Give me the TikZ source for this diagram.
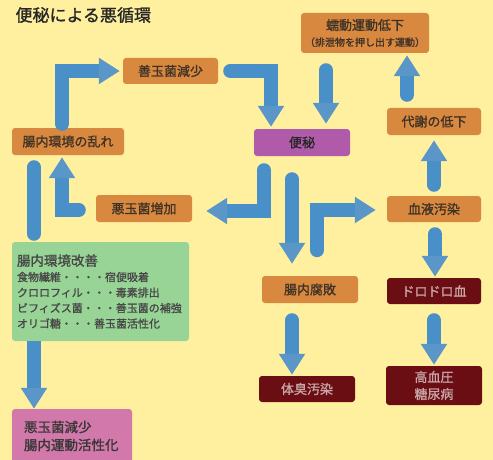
\documentclass[tikz,border=0pt]{standalone}
\usepackage{fontspec}
\setmainfont{Noto Sans CJK JP}
\newfontfamily\boxfont[FakeBold=1.2]{Noto Sans CJK JP}
\usepackage{tikz}
\usetikzlibrary{arrows.meta}
\definecolor{loopyellow}{HTML}{FFF0A0}
\definecolor{looporange}{HTML}{D98840}
\definecolor{looppurple}{HTML}{B05AAA}
\definecolor{loopgreen}{HTML}{98D496}
\definecolor{looppink}{HTML}{D278AA}
\definecolor{loopmaroon}{HTML}{6A0E14}
\definecolor{loopblue}{HTML}{4A90C8}
\definecolor{loophead}{HTML}{5A96C8}
\definecolor{loopink}{HTML}{3E3226}
\definecolor{looppale}{HTML}{C9A5A5}

\begin{document}
\begin{tikzpicture}[x=1pt, y=-1pt,
  stage/.style={fill=looporange, rounded corners=3pt, minimum width=96pt, minimum height=27pt, inner sep=0pt, align=center, text=loopink, font=\boxfont\fontsize{13}{17}\selectfont},
  core/.style={stage, fill=looppurple, text=black!85},
  result/.style={stage, fill=loopmaroon, text=looppale},
  remedy/.style={fill=loopgreen, rounded corners=3pt, text width=167pt, inner xsep=5pt, minimum height=99pt, align=left, text=black!72, font=\boxfont\fontsize{11}{15.5}\selectfont},
  relief/.style={fill=looppink, rounded corners=3pt, text width=96pt, inner xsep=12pt, minimum height=54pt, align=left, text=black!78, font=\boxfont\fontsize{13.5}{18}\selectfont},
  flow/.style={line width=14pt, draw=loopblue, line cap=round, arrows={-Triangle[width=25pt,length=21pt,color=loophead]}},
  link/.style={line width=14pt, draw=loopblue, line cap=round},
  feed/.style={line width=14pt, draw=loopblue, arrows={-Triangle[width=25pt,length=21pt,color=loophead]}}
]
\useasboundingbox (0,0) rectangle (493,460);
\clip (0,0) rectangle (493,460);
\fill[loopyellow] (0,0) rectangle (493,460);
\node[anchor=west, text=black!85, font=\boxfont\fontsize{17}{19}\selectfont] (title) at (12,15) {便秘による悪循環};
\node[stage, minimum width=95pt, minimum height=26pt] (zendama) at (170.5,71) {善玉菌減少};
\node[stage, minimum width=112pt] (ranre) at (68,141.5) {腸内環境の乱れ};
\node[stage, minimum width=128pt, minimum height=40pt] (zendo) at (365,33) {蠕動運動低下\\[-1pt]{\fontsize{10}{12}\selectfont （排泄物を押し出す運動）}};
\node[stage, minimum width=94pt] (taisha) at (434,121.5) {代謝の低下};
\node[core] (benpi) at (302,142.5) {便秘};
\node[stage] (akudama) at (144,208.5) {悪玉菌増加};
\node[stage, minimum width=94pt, minimum height=26pt] (ketsueki) at (434,209) {血液汚染};
\node[stage] (fuhai) at (310,289.5) {腸内腐敗};
\node[result, minimum width=94pt, minimum height=26pt] (doro) at (434,291) {ドロドロ血};
\node[result, minimum height=26pt] (taishu) at (307,389) {体臭汚染};
\node[result, minimum height=39pt] (kouketsu) at (434,385.5) {高血圧\\糖尿病};
\node[remedy] (kaizen) at (100.5,291.5) {{\fontsize{13.5}{16}\selectfont 腸内環境改善}\\
  食物繊維・・・・宿便吸着\\
  クロロフィル・・・毒素排出\\
  ビフィズス菌・・・善玉菌の補強\\
  オリゴ糖・・・善玉菌活性化};
\node[relief] (kasseika) at (72,436) {悪玉菌減少\\腸内運動活性化};
% the loop
\draw[flow] ([shift={(-6,-4)}]ranre.north) |- ([shift={(-3,0)}]zendama.west);
\draw[flow] ([shift={(12,0)}]zendama.east) -| ([shift={(-31,-2)}]benpi.north);
\draw[flow] ([shift={(-39,17)}]zendo.south) -- ([shift={(24,-5)}]benpi.north);
\draw[flow] ([shift={(-27,-13)}]taisha.north) -- ([shift={(42,2)}]zendo.south);
\draw[flow] ([shift={(0,-11)}]ketsueki.north) -- ([shift={(0,5)}]taisha.south);
\draw[flow] ([shift={(-38,14)}]benpi.south) |- ([shift={(14,2.5)}]akudama.east);
\draw[flow] ([shift={(-10,23)}]benpi.south) -- ([shift={(-18,-12)}]fuhai.north);
\draw[flow] ([shift={(15,94)}]benpi.south) |- ([shift={(-11,1)}]ketsueki.west);
\draw[flow] ([shift={(-17,1.5)}]akudama.west) -| ([shift={(-6,2)}]ranre.south);
% way out
\draw[link] ([shift={(-34,12)}]ranre.south) -- ([shift={(-66.5,-8)}]kaizen.north);
\draw[feed] ([shift={(-66.5,0)}]kaizen.south) -- ([shift={(-38,0)}]kasseika.north);
% results
\draw[flow] ([shift={(-18,17)}]fuhai.south) -- ([shift={(-15,-1)}]taishu.north);
\draw[flow] ([shift={(1,12)}]ketsueki.south) -- ([shift={(1,-1)}]doro.north);
\draw[flow] ([shift={(0,16)}]doro.south) -- ([shift={(0,-1)}]kouketsu.north);
\end{tikzpicture}
\end{document}
